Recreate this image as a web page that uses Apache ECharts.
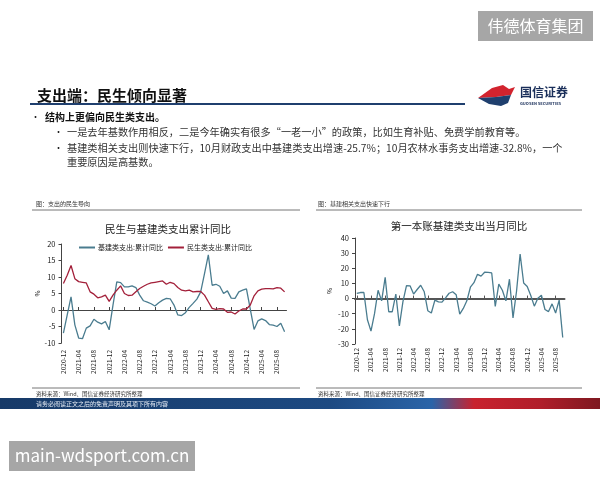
<!DOCTYPE html>
<html><head><meta charset="utf-8">
<script src="https://cdn.jsdelivr.net/npm/echarts@6/dist/echarts.min.js"></script>
<style>html,body{margin:0;padding:0;background:#fff}#c{width:600px;height:480px}</style>
</head><body><div id="c"></div>
<script>
var categories = ['2020-12',
'2021-01','2021-02','2021-03','2021-04','2021-05','2021-06','2021-07','2021-08','2021-09','2021-10','2021-11','2021-12',
'2022-01','2022-02','2022-03','2022-04','2022-05','2022-06','2022-07','2022-08','2022-09','2022-10','2022-11','2022-12',
'2023-01','2023-02','2023-03','2023-04','2023-05','2023-06','2023-07','2023-08','2023-09','2023-10','2023-11','2023-12',
'2024-01','2024-02','2024-03','2024-04','2024-05','2024-06','2024-07','2024-08','2024-09','2024-10','2024-11','2024-12',
'2025-01','2025-02','2025-03','2025-04','2025-05','2025-06','2025-07','2025-08','2025-09','2025-10'];

// 基建类支出:累计同比 (%)
var infraCum = [-7, -1.5, 4, -4.5, -8.5, -8.7, -5.5, -4.8, -2.8, -3.7, -4.2, -3.5, -6,
  1.5, 8.5, 8.3, 7, 7, 7.3, 6.8, 4.5, 2.8, 2.4, 1.9, 1.2,
  2.2, 3, 3.5, 3.4, 1.5, -1.5, -1.7, -0.8, 0.8, 2, 3.3, 5.5,
  11, 16.7, 7.5, 7.8, 7.2, 5, 5.8, 3.6, 3.5, 5.5, 6, 6.4,
  0.3, -5.9, -3.3, -2.7, -3.2, -4.4, -4.6, -5, -4, -6.6];
// 民生类支出:累计同比 (%)
var livelihoodCum = [8, 10.5, 13.5, 9.5, 8.6, 8.4, 8.2, 5.5, 4.8, 3.7, 4, 4.5, 2.6,
  4.5, 6, 7.3, 5, 4.4, 4.5, 5.5, 6.5, 7.2, 7.8, 8.2, 8.4,
  8.6, 8.8, 7.8, 8.4, 8, 6.8, 6, 5.8, 6, 5.5, 5.6, 5.6,
  4.5, 2.5, 0.5, 0.2, 0.4, 0.3, -0.7, -0.6, -1.2, -0.3, 0.3, 0.3,
  1.5, 4.3, 5.8, 6.3, 6.5, 6.5, 6.4, 6.8, 6.6, 5.5];
// 第一本账基建类支出当月同比 (%)
var infraMonthly = [3.5, 4, 4, -14, -21.5, -10, 5.5, -1.5, 14, -8.7, -8.7, 3, -18,
  -2, 8.6, 8.4, 3, 6, 8.8, 4.5, -8, -9.5, -1, -2.2, -2.4,
  0.5, 3.5, 4.5, 2.5, -10.3, -6.5, -1.5, 7.5, 10.5, 16, 14.8, 17.4,
  17.3, 16.9, -5.2, 9.5, 5.5, -1.5, 12.8, -12.8, 5, 29.4, 10.3, 8,
  2, -5, 0.2, 2.2, -7.2, -8.6, -3.5, -9.5, -1, -25.7];

var leftTicks = {min: -10, max: 20, interval: 5};
var rightTicks = {min: -30, max: 40, interval: 10};

var FONT = '"Noto Sans CJK SC", "Noto Sans", sans-serif';
var chart = echarts.init(document.getElementById('c'), null, {renderer: 'canvas'});

function labelAxis(gridIndex, margin) {
  return {
    type: 'category', gridIndex: gridIndex, data: categories, boundaryGap: true,
    position: 'bottom',
    axisLine: {show: false, onZero: false}, axisTick: {show: false},
    axisLabel: {rotate: 90, interval: 3, fontSize: 6.5, color: '#222', margin: margin, fontFamily: FONT},
    splitLine: {show: false}
  };
}
function zeroAxis(gridIndex, color, width) {
  return {
    type: 'category', gridIndex: gridIndex, data: categories, boundaryGap: true,
    position: 'bottom',
    axisLine: {show: true, onZero: true, lineStyle: {color: color, width: width}},
    axisTick: {show: true, inside: true, interval: 3, length: 3, alignWithLabel: true, lineStyle: {color: color, width: 1}},
    axisLabel: {show: false}, splitLine: {show: false}
  };
}
function valAxis(gridIndex, t, gap) {
  return {
    type: 'value', gridIndex: gridIndex, min: t.min, max: t.max, interval: t.interval,
    name: '%', nameLocation: 'middle', nameGap: gap, nameRotate: 90,
    nameTextStyle: {fontSize: 6.5, color: '#222', fontFamily: FONT},
    axisLine: {show: true, lineStyle: {color: '#444', width: 1}},
    axisTick: {show: true, length: 3, lineStyle: {color: '#444'}},
    axisLabel: {fontSize: 7.5, color: '#222', margin: 6, fontFamily: FONT},
    splitLine: {show: false}
  };
}

var graphics = [
  {type: 'rect', shape: {x: 478, y: 11, width: 115, height: 30}, style: {fill: '#a6a6a6'}},
  {type: 'text', x: 535.5, y: 26, style: {text: '伟德体育集团', fill: '#fff', font: '16px ' + FONT, textAlign: 'center', textVerticalAlign: 'middle'}},
  {type: 'text', x: 37, y: 95, style: {text: '支出端：民生倾向显著', fill: '#111', font: 'bold 15px ' + FONT, textVerticalAlign: 'middle'}},
  {type: 'line', shape: {x1: 30, y1: 104, x2: 465, y2: 104}, style: {stroke: '#1f3f6e', lineWidth: 2}},
  {type: 'polygon', shape: {points: [[478, 98], [492, 88], [503, 85], [509, 89], [515, 87], [511, 95], [496, 97]]}, style: {fill: '#d2232e'}},
  {type: 'polygon', shape: {points: [[478, 98], [496, 97], [511, 95], [508, 103], [501, 106], [489, 104]]}, style: {fill: '#1f3f6e'}},
  {type: 'text', x: 520, y: 92, style: {text: '国信证券', fill: '#1a2f5a', font: 'bold 12px ' + FONT, textVerticalAlign: 'middle'}},
  {type: 'text', x: 520, y: 103, style: {text: 'GUOSEN SECURITIES', fill: '#1a2f5a', font: 'bold 4px ' + FONT, textVerticalAlign: 'middle'}},
  {type: 'text', x: 31, y: 117, style: {text: '•', fill: '#222', font: '9px ' + FONT, textVerticalAlign: 'middle'}},
  {type: 'text', x: 45, y: 117, style: {text: '结构上更偏向民生类支出。', fill: '#111', font: 'bold 10px ' + FONT, textVerticalAlign: 'middle'}},
  {type: 'text', x: 54, y: 132, style: {text: '•', fill: '#222', font: '9px ' + FONT, textVerticalAlign: 'middle'}},
  {type: 'text', x: 67, y: 132, style: {text: '一是去年基数作用相反，二是今年确实有很多“一老一小”的政策，比如生育补贴、免费学前教育等。', fill: '#333', font: '10.2px ' + FONT, textVerticalAlign: 'middle'}},
  {type: 'text', x: 54, y: 148, style: {text: '•', fill: '#222', font: '9px ' + FONT, textVerticalAlign: 'middle'}},
  {type: 'text', x: 67, y: 148, style: {text: '基建类相关支出则快速下行，10月财政支出中基建类支出增速-25.7%；10月农林水事务支出增速-32.8%，一个', fill: '#333', font: '10.2px ' + FONT, textVerticalAlign: 'middle'}},
  {type: 'text', x: 67, y: 162, style: {text: '重要原因是高基数。', fill: '#333', font: '10.2px ' + FONT, textVerticalAlign: 'middle'}},
  {type: 'text', x: 36, y: 204, style: {text: '图：支出的民生导向', fill: '#333', font: '6px ' + FONT, textVerticalAlign: 'middle'}},
  {type: 'line', shape: {x1: 32, y1: 210, x2: 300, y2: 210}, style: {stroke: '#777', lineWidth: 1}},
  {type: 'text', x: 318, y: 204, style: {text: '图：基建相关支出快速下行', fill: '#333', font: '6px ' + FONT, textVerticalAlign: 'middle'}},
  {type: 'line', shape: {x1: 316, y1: 210, x2: 582, y2: 210}, style: {stroke: '#777', lineWidth: 1}},
  {type: 'line', shape: {x1: 32, y1: 388, x2: 300, y2: 388}, style: {stroke: '#777', lineWidth: 1}},
  {type: 'line', shape: {x1: 316, y1: 388, x2: 582, y2: 388}, style: {stroke: '#777', lineWidth: 1}},
  {type: 'text', x: 36, y: 394, style: {text: '资料来源：Wind、国信证券经济研究所整理', fill: '#333', font: '5.5px ' + FONT, textVerticalAlign: 'middle'}},
  {type: 'text', x: 318, y: 394, style: {text: '资料来源：Wind、国信证券经济研究所整理', fill: '#333', font: '5.5px ' + FONT, textVerticalAlign: 'middle'}},
  {type: 'rect', shape: {x: 0, y: 398, width: 600, height: 11}, style: {fill: new echarts.graphic.LinearGradient(0, 0, 1, 0, [
    {offset: 0, color: '#173a68'}, {offset: 0.55, color: '#1d4a82'}, {offset: 0.72, color: '#2a64a8'},
    {offset: 0.79, color: '#c8222e'}, {offset: 0.9, color: '#b01e2a'}, {offset: 1, color: '#7e1820'}])}},
  {type: 'text', x: 36, y: 404, style: {text: '请务必阅读正文之后的免责声明及其项下所有内容', fill: '#e8eef6', font: '6px ' + FONT, textVerticalAlign: 'middle'}},
  {type: 'rect', shape: {x: 9, y: 441, width: 186, height: 30}, style: {fill: '#a6a6a6'}},
  {type: 'text', x: 102, y: 456, style: {text: 'main-wdsport.com.cn', fill: '#fff', font: '17px ' + FONT, textAlign: 'center', textVerticalAlign: 'middle'}}
];

var option = {
  backgroundColor: '#fff',
  animation: false,
  textStyle: {fontFamily: FONT},
  title: [
    {text: '民生与基建类支出累计同比', left: 163, top: 219, textAlign: 'center', textStyle: {fontSize: 10.5, fontWeight: 'normal', color: '#222', fontFamily: FONT}},
    {text: '第一本账基建类支出当月同比', left: 454, top: 216, textAlign: 'center', textStyle: {fontSize: 10.5, fontWeight: 'normal', color: '#222', fontFamily: FONT}}
  ],
  legend: {
    left: 74, top: 239, itemWidth: 16, itemHeight: 2, itemGap: 5, icon: 'rect',
    textStyle: {fontSize: 7, color: '#222', fontFamily: FONT, padding: [0, 0, 0, -2]},
    data: ['基建类支出:累计同比', '民生类支出:累计同比']
  },
  grid: [
    {left: 61.5, top: 244, width: 225, height: 99},
    {left: 355, top: 238, width: 209.5, height: 106}
  ],
  xAxis: [labelAxis(0, 7), zeroAxis(0, '#444', 1), labelAxis(1, 4), zeroAxis(1, '#555', 2)],
  yAxis: [valAxis(0, leftTicks, 16), valAxis(1, rightTicks, 22)],
  series: [
    {name: '基建类支出:累计同比', type: 'line', xAxisIndex: 0, yAxisIndex: 0, data: infraCum, showSymbol: false, lineStyle: {color: '#4a7c8f', width: 1.3}, itemStyle: {color: '#4a7c8f'}},
    {name: '民生类支出:累计同比', type: 'line', xAxisIndex: 0, yAxisIndex: 0, data: livelihoodCum, showSymbol: false, lineStyle: {color: '#a3203a', width: 1.3}, itemStyle: {color: '#a3203a'}},
    {name: '第一本账基建类支出当月同比', type: 'line', xAxisIndex: 2, yAxisIndex: 1, data: infraMonthly, showSymbol: false, lineStyle: {color: '#4a7c8f', width: 1.3}, itemStyle: {color: '#4a7c8f'}}
  ],
  graphic: graphics
};
chart.setOption(option);
</script>
</body></html>
